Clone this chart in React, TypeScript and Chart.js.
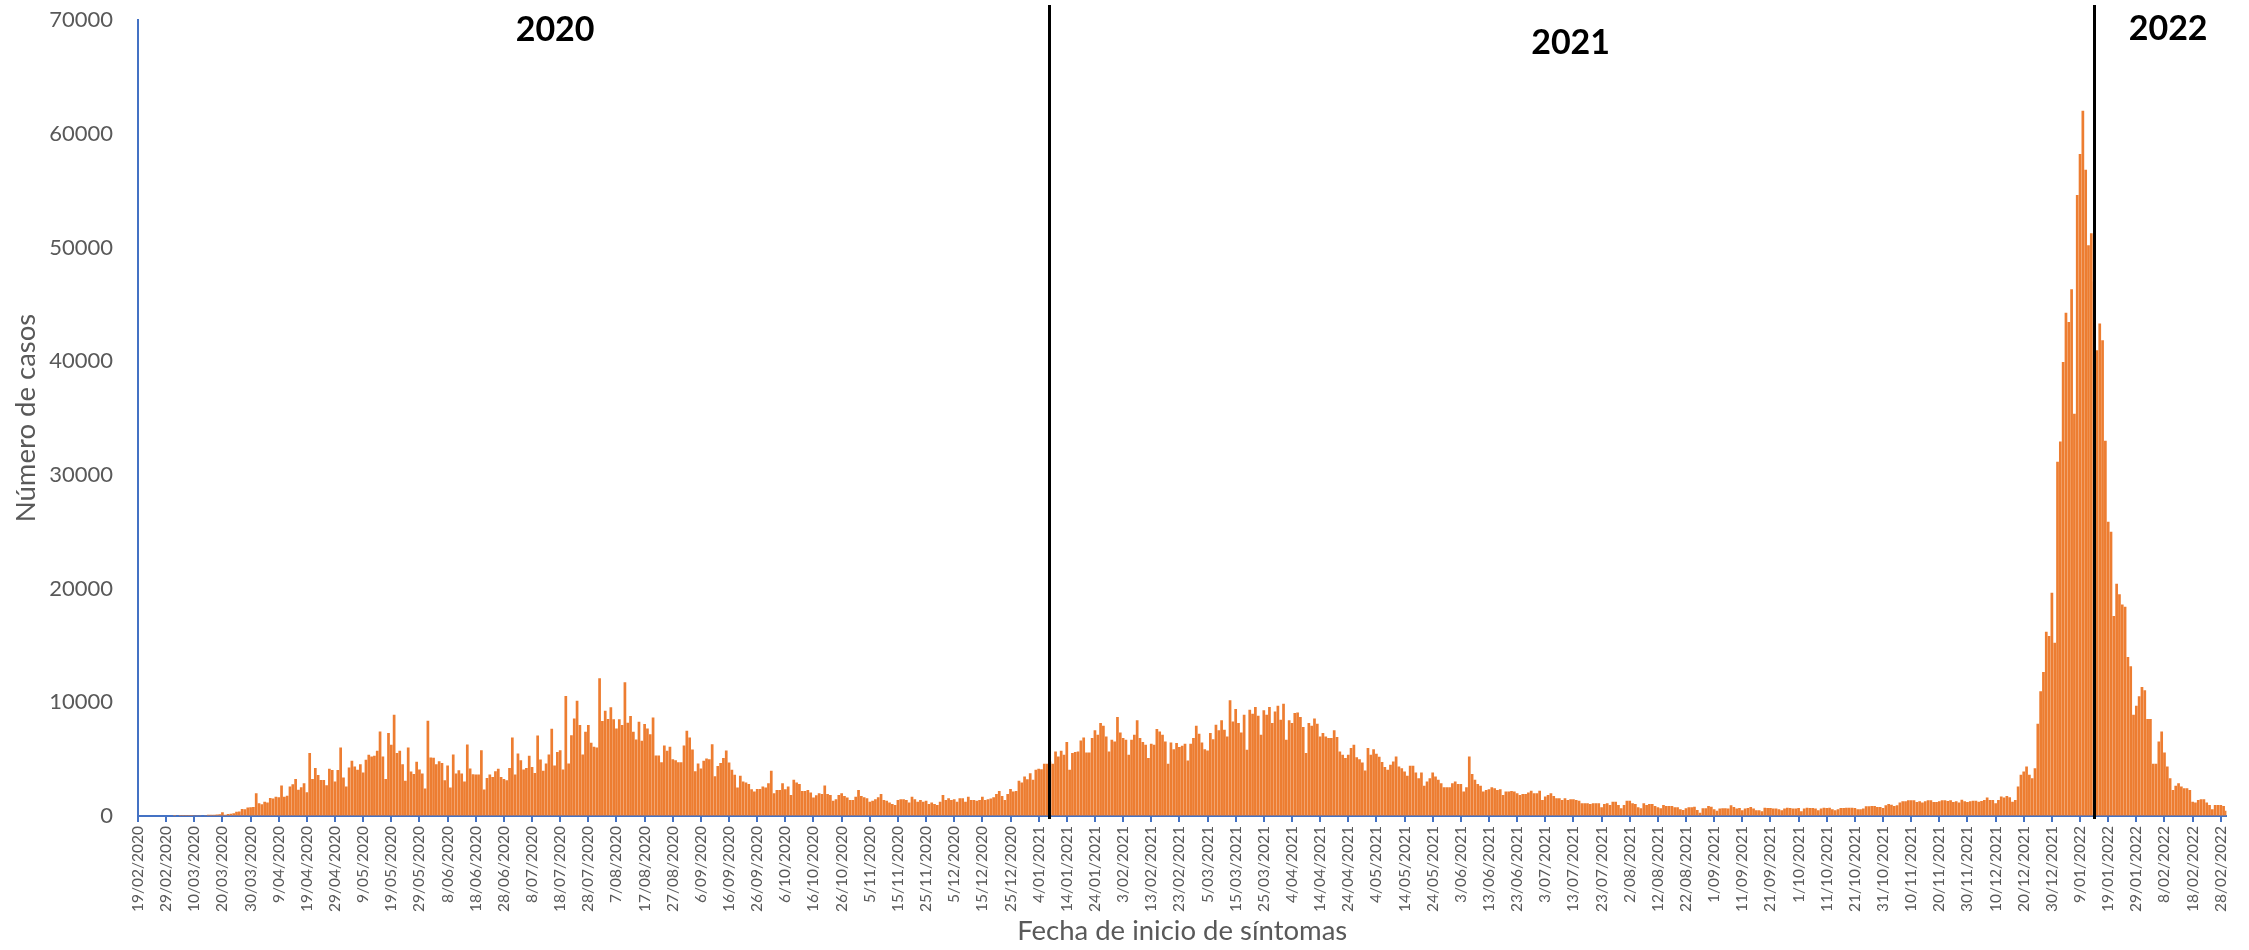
import React, { useEffect, useRef } from 'react';
import { Chart, registerables } from 'chart.js';

Chart.register(...registerables);

// First day of the series (19/02/2020); one bar per day.
const START_UTC = Date.UTC(2020, 1, 19);

// Daily cases by symptom onset.
const wave2020a = [
  0, 0, 0, 0, 0, 0, 0, 0, 0, 0,
  0, 0, 0, 2, 0, 3, 5, 4, 8, 10,
  15, 20, 30, 45, 60, 110, 120, 100, 130, 150,
  320, 120, 180, 190, 240, 380, 400, 620, 590, 740,
  760, 800, 2000, 1120, 1030, 1260, 1180, 1590, 1530, 1700,
  1650, 2680, 1700, 1790, 2590, 2790, 3260, 2300, 2530, 2880,
  2090, 5530, 3260, 4230, 3600, 3170, 3170, 2700, 4150, 4050,
  3030, 4050, 6030, 3380, 2590, 4260, 4850, 4350, 4060, 4560,
  3820, 4940, 5380, 5230, 5290, 5730, 7440, 5230, 3260, 7290,
  6260, 8900, 5530, 5730, 4560, 3090, 6030, 3910, 3700, 4760,
];

const wave2020b = [
  4090, 3730, 2410, 8380, 5150, 5120, 4560, 4820, 4670, 3150,
  4440, 2500, 5410, 3730, 4030, 3730, 3030, 6290, 4170, 3680,
  3650, 3650, 5790, 2320, 3350, 3650, 3440, 3940, 4150, 3440,
  3260, 3150, 4230, 6910, 3650, 5500, 4910, 4090, 4230, 5290,
  4320, 3790, 7090, 4970, 3970, 4620, 5410, 7670, 4440, 5620,
  5790, 4090, 10550, 4620, 7110, 8580, 10140, 8000, 5410, 7410,
  8000, 6440, 6090, 6030, 12110, 8350, 9260, 8530, 9560, 8500,
  7700, 8500, 8000, 11760, 8200, 8790, 7410, 6730, 8290, 6620,
  8090, 7700, 7200, 8670, 5320, 5320, 4730, 6200, 5730, 6090,
  5000, 4910, 4730, 4730, 6200, 7500, 6910, 5850, 3940, 4620,
];

const late2020 = [
  4170, 4850, 5060, 5000, 6300, 3500, 4400, 4650, 5090, 5760,
  4700, 4060, 3620, 2500, 3530, 3030, 2940, 2820, 2350, 2150,
  2380, 2380, 2590, 2500, 2880, 3970, 2000, 2290, 2290, 2880,
  2350, 2590, 1850, 3180, 2940, 2820, 2200, 2200, 2290, 2060,
  1620, 1820, 2000, 1940, 2680, 1940, 1850, 1350, 1470, 1850,
  2000, 1760, 1620, 1410, 1410, 1700, 2290, 1760, 1650, 1560,
  1260, 1350, 1470, 1650, 1940, 1410, 1350, 1180, 1060, 970,
  1410, 1470, 1470, 1410, 1180, 1700, 1470, 1260, 1410, 1260,
  1350, 1060, 1180, 1060, 970, 1260, 1850, 1410, 1560, 1410,
  1470, 1260, 1560, 1560, 1260, 1700, 1410, 1410, 1350, 1410,
  1700, 1410, 1470, 1530, 1650, 1940, 2200, 1760, 1410, 1940,
  2380, 2150, 2200, 3090, 2940, 3470, 3240, 3760, 3180, 4060,
  4150, 4120, 4590,
];

const wave2021 = [
  4590,
  4790, 4590, 5670, 5230, 5730, 5380,
  6500, 4060, 5530, 5620, 5670, 6640, 6910, 5590, 5590, 6850,
  7530, 7140, 8170, 7940, 7000, 5670, 6700, 6560, 8700, 7350,
  6850, 6700, 5380, 6700, 7140, 8410, 6850, 6500, 6260, 5090,
  6350, 6260, 7640, 7440, 7140, 6560, 4590, 6470, 5880, 6410,
  6060, 6170, 6350, 4880, 6350, 6850, 7940, 7230, 6470, 5880,
  5760, 7290, 6760, 8030, 7530, 8410, 7590, 7000, 10170, 8320,
  9410, 8170, 7350, 8910, 5820, 9350, 9000, 9580, 8820, 7140,
  9290, 8910, 9580, 8170, 9200, 9700, 8470, 9880, 6700, 8410,
  8170, 9060, 9110, 8700, 7820, 5530, 8170, 7940, 8580, 8110,
  7000, 7290, 7000, 6850, 6850, 7530, 6940, 5670, 5380, 5090,
  5380, 5970, 6260, 5170, 5000, 4700, 4000, 5970, 5380, 5880,
  5470, 5200, 4750, 4300,
];

const mid2021 = [
  4060, 4500, 4790, 5230, 4350, 4200,
  3910, 3530, 4410, 4410, 3820, 3320, 3820, 2650, 3030, 3320,
  3820, 3470, 3180, 2880, 2530, 2530, 2530, 2880, 3030, 2820,
  2820, 2150, 2530, 5230, 3700, 3180, 2820, 2650, 2150, 2290,
  2350, 2530, 2440, 2290, 2350, 1850, 2150, 2150, 2200, 2150,
  2000, 1850, 1940, 1940, 2060, 2230, 2000, 2000, 2230, 1410,
  1710, 1850, 2000, 1760, 1560, 1560, 1410, 1560, 1410, 1470,
  1470, 1410, 1350, 1120, 1120, 1120, 1060, 1120, 1120, 1120,
  760, 1060, 1120, 970, 1260, 1260, 970, 680, 970, 1350,
  1350, 1120, 1060, 760, 680, 1120, 970, 1060, 1060, 880,
  760, 680, 970, 880, 880, 880, 760, 760, 590, 530,
  680, 760, 760, 820, 530, 290, 680, 680, 880, 820,
  590, 470, 650, 680, 680,
];

const late2021 = [
  650, 940, 790, 650, 710,
  500, 650, 710, 790, 650, 500, 500, 410, 730, 710,
  710, 650, 650, 590, 500, 650, 730, 710, 650, 650,
  710, 410, 650, 730, 710, 710, 650, 500, 650, 730,
  710, 730, 590, 500, 590, 710, 710, 730, 730, 730,
  710, 590, 590, 650, 850, 850, 880, 880, 790, 790,
  710, 940, 1060, 1000, 880, 940, 1180, 1290, 1290, 1380,
  1380, 1380, 1230, 1290, 1180, 1290, 1380, 1380, 1230, 1230,
  1290, 1380, 1380, 1320, 1380, 1230, 1290, 1180, 1440, 1290,
  1230, 1290, 1350, 1350, 1260, 1320, 1410, 1620, 1410, 1410,
  1120, 1410, 1710, 1620, 1760, 1650, 1260, 1410,
];

const omicron2022 = [
  2590, 3620,
  3910, 4350, 3620, 3320, 4200, 8110, 10970, 12670, 16200, 15820,
  19640, 15230, 31160, 32930, 39920, 44250, 43450, 46330, 35370, 54620,
  58210, 62030, 56830, 50200, 51240, 47000, 40950, 43310, 41840, 33000,
  25870, 24990, 17580, 20430, 19490, 18610, 18400, 13990, 13170, 8910,
  9700, 10530, 11350, 11050, 8530, 8530, 4590, 4590, 6560, 7440,
  5590, 4350, 3320, 2290, 2650, 2880, 2590, 2440, 2440, 2290,
  1260, 1180, 1410, 1470, 1470, 1180, 970, 590, 970, 970,
  970, 880, 470,
];

const casos = [
  ...wave2020a,
  ...wave2020b,
  ...late2020,
  ...wave2021,
  ...mid2021,
  ...late2021,
  ...omicron2022,
];

// Category labels: one per day, "d/mm/yyyy".
const fechas = casos.map((_, i) => {
  const d = new Date(START_UTC + i * 86400000);
  return `${d.getUTCDate()}/${String(d.getUTCMonth() + 1).padStart(2, '0')}/${d.getUTCFullYear()}`;
});

const LABEL_EVERY = 10;
const yTickValues = [0, 10000, 20000, 30000, 40000, 50000, 60000, 70000];
const yearNames = ['2020', '2021', '2022'];

const FONT = 'Lato, "Noto Sans", sans-serif';
const ORANGE = '#ED7D31';
const AXIS_BLUE = '#4472C4';
const GREY = '#595959';

const yearPlugin = {
  id: 'yearMarks',
  afterDraw(chart: any, _args: any, opts: any) {
    const { ctx, chartArea, scales } = chart;
    const x = scales.x;
    const y = scales.y;
    ctx.save();
    ctx.strokeStyle = '#000';
    ctx.lineWidth = 3;
    for (const v of opts.dividers) {
      const px = Math.round(x.getPixelForValue(v)) + 0.5;
      ctx.beginPath();
      ctx.moveTo(px, chartArea.top - 15);
      ctx.lineTo(px, chartArea.bottom + 3);
      ctx.stroke();
    }
    ctx.fillStyle = '#000';
    ctx.font = `bold 34px ${FONT}`;
    ctx.textAlign = 'center';
    ctx.textBaseline = 'middle';
    opts.labels.forEach((l: any, i: number) => {
      ctx.fillText(yearNames[i], x.getPixelForValue(l.index), y.getPixelForValue(l.value));
    });
    ctx.restore();
  },
};

export default function App() {
  const canvasRef = useRef<HTMLCanvasElement | null>(null);

  useEffect(() => {
    const canvas = canvasRef.current;
    if (!canvas) return;
    const chart = new Chart(canvas, {
      type: 'bar',
      data: {
        labels: fechas,
        datasets: [
          {
            label: 'Número de casos',
            data: casos,
            backgroundColor: ORANGE,
            borderWidth: 0,
            barPercentage: 0.96,
            categoryPercentage: 1,
          },
        ],
      },
      options: {
        animation: false,
        responsive: false,
        devicePixelRatio: 1,
        layout: { padding: { top: 20, right: 17, bottom: 0, left: 0 } },
        plugins: {
          legend: { display: false },
          tooltip: { enabled: false },
          yearMarks: {
            dividers: [323.8, 695],
            labels: [
              { index: 148.2, value: 69100 },
              { index: 509, value: 68000 },
              { index: 721.3, value: 69200 },
            ],
          },
        } as any,
        scales: {
          x: {
            offset: false,
            grid: {
              display: true,
              offset: false,
              drawOnChartArea: false,
              drawTicks: true,
              tickLength: 6,
              lineWidth: 2,
              color: (c: any) => (c.index % LABEL_EVERY === 0 ? AXIS_BLUE : 'rgba(0,0,0,0)'),
            },
            border: { display: true, color: AXIS_BLUE, width: 2 },
            ticks: {
              autoSkip: false,
              minRotation: 90,
              maxRotation: 90,
              padding: 4,
              color: GREY,
              font: { family: FONT, size: 15.5 },
              callback: (_v: any, i: number) => (i % LABEL_EVERY === 0 ? fechas[i] : ''),
            },
            title: {
              display: true,
              text: 'Fecha de inicio de síntomas',
              color: GREY,
              font: { family: FONT, size: 27.5 },
              padding: { top: 0, bottom: 2 },
            },
            afterFit: (s: any) => {
              s.height = 134;
            },
          },
          y: {
            min: 0,
            max: 70000,
            afterBuildTicks: (s: any) => {
              s.ticks = yTickValues.map((v) => ({ value: v }));
            },
            ticks: {
              padding: 3,
              color: GREY,
              font: { family: FONT, size: 22 },
              callback: (v: any) => String(v),
            },
            grid: {
              display: true,
              drawOnChartArea: false,
              drawTicks: true,
              tickLength: 22,
              color: 'rgba(0,0,0,0)',
            },
            border: { display: true, color: AXIS_BLUE, width: 2 },
            title: {
              display: true,
              text: 'Número de casos',
              color: GREY,
              font: { family: FONT, size: 27.5 },
              padding: { top: 10, bottom: 0 },
            },
            afterFit: (s: any) => {
              s.width = 138;
            },
          },
        },
      } as any,
      plugins: [yearPlugin],
    });
    return () => chart.destroy();
  }, []);

  return (
    <div style={{ position: 'absolute', left: 0, top: 0, width: 2249, height: 950, background: '#fff' }}>
      <canvas ref={canvasRef} width={2249} height={950} style={{ width: 2249, height: 950, display: 'block' }} />
    </div>
  );
}
